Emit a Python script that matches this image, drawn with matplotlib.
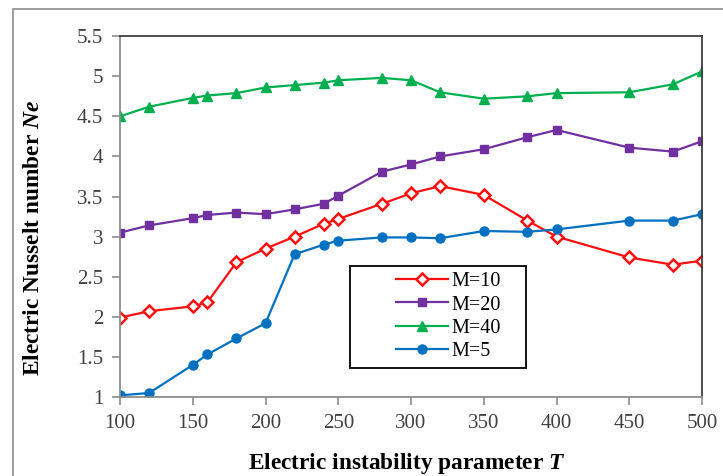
import numpy as np
import matplotlib.pyplot as plt
from matplotlib.patches import Rectangle

plt.rcParams['font.family'] = 'Liberation Serif'
plt.rcParams['mathtext.fontset'] = 'custom'
plt.rcParams['mathtext.it'] = 'Liberation Serif:bold:italic'
plt.rcParams['mathtext.bf'] = 'Liberation Serif:bold'

# parametro de instabilidade eletrica T
T = [100, 120, 150, 160, 180, 200, 220, 240, 250, 280, 300, 320, 350, 380, 400, 450, 480, 500]

ne_m10 = [1.99, 2.07, 2.13, 2.18, 2.68, 2.85, 3.00, 3.16, 3.22, 3.41, 3.54, 3.63, 3.52, 3.20, 3.00, 2.74, 2.65, 2.70]
ne_m20 = [3.05, 3.14, 3.23, 3.27, 3.30, 3.28, 3.34, 3.41, 3.51, 3.81, 3.90, 4.00, 4.09, 4.24, 4.33, 4.11, 4.06, 4.19]
ne_m40 = [4.50, 4.62, 4.73, 4.76, 4.79, 4.86, 4.89, 4.92, 4.95, 4.98, 4.95, 4.80, 4.72, 4.75, 4.79, 4.80, 4.90, 5.06]
ne_m5 = [1.02, 1.05, 1.40, 1.53, 1.73, 1.92, 2.78, 2.90, 2.95, 2.99, 2.99, 2.98, 3.07, 3.06, 3.09, 3.20, 3.20, 3.28]

fig = plt.figure(figsize=(7.23, 4.76), dpi=100)
ax = fig.add_axes([0.166, 0.166, 0.805, 0.758])

# moldura externa do grafico
fig.patches.append(Rectangle((0.018, -0.1), 1.1, 1.081, transform=fig.transFigure,
                             fill=False, edgecolor='#8c8c8c', linewidth=1.2))

ax.plot(T, ne_m10, '-D', color='#ff1010', lw=1.6, ms=6.5, mfc='white', mew=1.8, label='M=10')
ax.plot(T, ne_m20, '-s', color='#7030a0', lw=1.6, ms=5.5, label='M=20')
ax.plot(T, ne_m40, '-^', color='#00b050', lw=1.6, ms=7.5, label='M=40')
ax.plot(T, ne_m5, '-o', color='#0070c0', lw=1.6, ms=6.5, label='M=5')

ax.set_xlim(100, 500)
ax.set_ylim(1, 5.5)
ax.set_xticks(np.arange(100, 501, 50))
ax.set_yticks(np.arange(1, 5.51, 0.5))
ax.set_yticklabels(['1', '1.5', '2', '2.5', '3', '3.5', '4', '4.5', '5', '5.5'])

ax.tick_params(axis='both', direction='out', length=6, width=1.2, color='#8c8c8c',
               labelsize=15, labelcolor='#404040', pad=6)
for s in ['left', 'bottom']:
    ax.spines[s].set_color('#8c8c8c')
    ax.spines[s].set_linewidth(1.3)
for s in ['top', 'right']:
    ax.spines[s].set_color('#404040')
    ax.spines[s].set_linewidth(1.3)

ax.set_xlabel(r'Electric instability parameter $T$', fontsize=16.8, fontweight='bold')
ax.set_ylabel(r'Electric Nusselt number $Ne$', fontsize=16.8, fontweight='bold')
ax.xaxis.set_label_coords(0.493, -0.15)
ax.yaxis.set_label_coords(-0.13, 0.44)

# legenda sem moldura + retangulo desenhado a parte
leg = ax.legend(loc='center left', bbox_to_anchor=(0.457, 0.223), fontsize=14.5, frameon=False,
                handlelength=2.6, borderpad=0, labelspacing=0.2, handletextpad=0.15)
ax.add_patch(Rectangle((0.395, 0.080), 0.303, 0.283, transform=ax.transAxes,
                       fill=False, edgecolor='black', linewidth=1.3, zorder=5))

fig.savefig('out.png', dpi=100)
